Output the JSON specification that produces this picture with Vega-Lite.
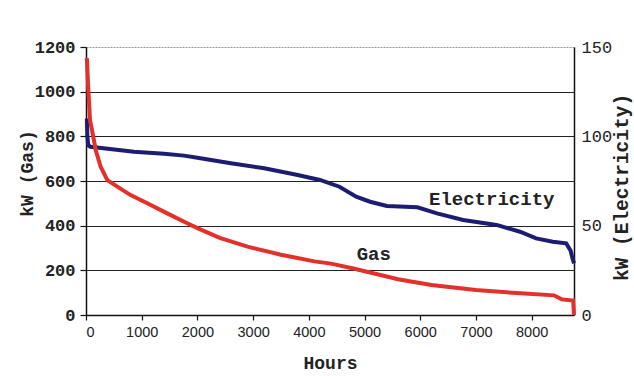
{
  "$schema": "https://vega.github.io/schema/vega-lite/v6.json",
  "width": 488,
  "height": 268,
  "autosize": {"type": "none"},
  "padding": {"left": 86, "top": 47, "right": 60, "bottom": 61},
  "background": "white",
  "config": {
    "view": {"stroke": null},
    "axis": {"labelColor": "#222", "titleColor": "#222", "domainColor": "#111", "tickColor": "#111", "domainWidth": 1.5, "tickWidth": 1.2}
  },
  "datasets": {
    "gas": [
      {"hours": 15, "kw": 1150}, {"hours": 36, "kw": 1037}, {"hours": 72, "kw": 873}, {"hours": 131, "kw": 798},
      {"hours": 174, "kw": 739}, {"hours": 263, "kw": 664}, {"hours": 383, "kw": 604}, {"hours": 562, "kw": 575},
      {"hours": 801, "kw": 537}, {"hours": 1100, "kw": 500}, {"hours": 1458, "kw": 455}, {"hours": 1817, "kw": 411},
      {"hours": 2000, "kw": 389}, {"hours": 2400, "kw": 345}, {"hours": 2900, "kw": 306},
      {"hours": 3500, "kw": 270}, {"hours": 4100, "kw": 240}, {"hours": 4400, "kw": 230}, {"hours": 4800, "kw": 208},
      {"hours": 5100, "kw": 190}, {"hours": 5600, "kw": 160}, {"hours": 6200, "kw": 134}, {"hours": 7000, "kw": 112},
      {"hours": 7800, "kw": 97}, {"hours": 8400, "kw": 88}, {"hours": 8540, "kw": 70}, {"hours": 8745, "kw": 65},
      {"hours": 8760, "kw": 0}
    ],
    "elec": [
      {"hours": 15, "kw": 110}, {"hours": 25, "kw": 100}, {"hours": 40, "kw": 95}, {"hours": 80, "kw": 94.2},
      {"hours": 861, "kw": 91.4}, {"hours": 1400, "kw": 90.3}, {"hours": 1760, "kw": 89.2}, {"hours": 2000, "kw": 88},
      {"hours": 2600, "kw": 84.9},
      {"hours": 3200, "kw": 82.1}, {"hours": 3800, "kw": 78.4}, {"hours": 4200, "kw": 75.6}, {"hours": 4550, "kw": 71.8},
      {"hours": 4850, "kw": 66.2}, {"hours": 5100, "kw": 63.4}, {"hours": 5400, "kw": 61}, {"hours": 5950, "kw": 60.3},
      {"hours": 6300, "kw": 56.9}, {"hours": 6770, "kw": 53.2}, {"hours": 7370, "kw": 50.4}, {"hours": 7790, "kw": 46.6},
      {"hours": 8080, "kw": 42.9}, {"hours": 8380, "kw": 41}, {"hours": 8620, "kw": 40.1}, {"hours": 8700, "kw": 36},
      {"hours": 8730, "kw": 32}, {"hours": 8760, "kw": 28.9}
    ]
  },
  "layer": [
    {
      "data": {"name": "elec"},
      "mark": {"type": "line", "color": "#1c1c72", "strokeWidth": 4},
      "encoding": {
        "x": {"field": "hours", "type": "quantitative", "scale": {"domain": [0, 8760], "nice": false},
          "axis": {"values": [0, 1000, 2000, 3000, 4000, 5000, 6000, 7000, 8000], "format": "d", "grid": false, "title": "Hours",
            "labelFont": "Liberation Sans", "labelFontSize": 14.5, "labelPadding": 5, "tickSize": 5,
            "titleFont": "Liberation Mono", "titleFontWeight": "bold", "titleFontSize": 18, "titleBaseline": "middle", "titleY": 48}},
        "y": {"field": "kw", "type": "quantitative", "scale": {"domain": [0, 150], "nice": false},
          "axis": {"orient": "right", "values": [0, 50, 100, 150], "format": "d", "grid": false, "ticks": false, "labelPadding": 7,
            "labelFont": "Liberation Mono", "labelFontSize": 17, "title": "kW (Electricity)",
            "titleFont": "Liberation Mono", "titleFontWeight": "bold", "titleFontSize": 19.5, "titleAngle": 270,
            "titleBaseline": "middle", "titleX": 47, "titleY": 140}}
      }
    },
    {
      "layer": [
        {
          "data": {"name": "gas"},
          "mark": {"type": "line", "color": "#e3302b", "strokeWidth": 4},
          "encoding": {
            "x": {"field": "hours", "type": "quantitative"},
            "y": {"field": "kw", "type": "quantitative", "scale": {"domain": [0, 1200], "nice": false},
              "axis": {"values": [0, 200, 400, 600, 800, 1000, 1200], "format": "d", "grid": true,
                "gridColor": {"condition": {"test": "datum.value == 1200", "value": "#999999"}, "value": "#222222"},
                "gridDash": {"condition": {"test": "datum.value == 1200", "value": [2, 1]}, "value": []},
                "gridWidth": 1.2, "tickSize": 6, "labelPadding": 5,
                "labelFont": "Liberation Mono", "labelFontWeight": "bold", "labelFontSize": 17,
                "title": "kW (Gas)", "titleFont": "Liberation Mono", "titleFontWeight": "bold", "titleFontSize": 18,
                "titleBaseline": "middle", "titleX": -59, "titleY": 126}}
          }
        },
        {
          "data": {"values": [{}]},
          "mark": {"type": "text", "font": "Liberation Mono", "fontWeight": "bold", "fontSize": 19, "color": "#222", "baseline": "middle", "align": "center"},
          "encoding": {
            "x": {"datum": 7283, "type": "quantitative"},
            "y": {"datum": 518, "type": "quantitative"},
            "text": {"value": "Electricity"}
          }
        },
        {
          "data": {"values": [{}]},
          "mark": {"type": "text", "font": "Liberation Mono", "fontWeight": "bold", "fontSize": 19, "color": "#222", "baseline": "middle", "align": "center"},
          "encoding": {
            "x": {"datum": 5166, "type": "quantitative"},
            "y": {"datum": 272, "type": "quantitative"},
            "text": {"value": "Gas"}
          }
        }
      ]
    }
  ],
  "resolve": {"scale": {"y": "independent"}}
}
